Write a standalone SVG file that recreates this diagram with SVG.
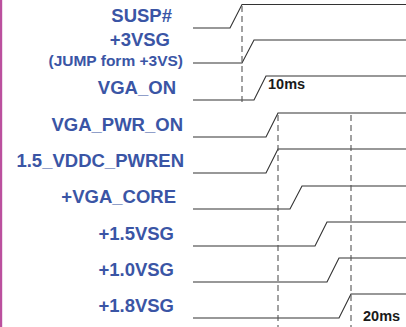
<svg xmlns="http://www.w3.org/2000/svg" width="406" height="327" viewBox="0 0 406 327">
<style>
.lbl{font-family:"Liberation Sans",Arial,sans-serif;font-weight:bold;font-size:18.5px;fill:#3a55a5;text-anchor:end}
.sm{font-size:15.5px}
.ms{font-family:"Liberation Sans",Arial,sans-serif;font-weight:bold;font-size:14.5px;fill:#1a1a1a}
.w{fill:none;stroke:#333;stroke-width:1.1}
.d{fill:none;stroke:#555;stroke-width:1.1;stroke-dasharray:6 4}
</style>
<rect x="0" y="0" width="406" height="327" fill="#fff"/>
<rect x="0" y="0" width="2.2" height="327" fill="#bb509e"/>
<g id="labels">
<g id="n-susp"><text class="lbl" x="172" y="22">SUSP#</text></g>
<g id="n-3vsg"><text class="lbl" x="170" y="46">+3VSG</text></g>
<g id="n-jump"><text class="lbl sm" x="183" y="66">(JUMP form +3VS)</text></g>
<g id="n-vgaon"><text class="lbl" x="176" y="94">VGA_ON</text></g>
<g id="n-vgapwron"><text class="lbl" x="183" y="131">VGA_PWR_ON</text></g>
<g id="n-vddc"><text class="lbl" x="184" y="167">1.5_VDDC_PWREN</text></g>
<g id="n-core"><text class="lbl" x="176" y="203">+VGA_CORE</text></g>
<g id="n-15"><text class="lbl" x="174" y="240">+1.5VSG</text></g>
<g id="n-10"><text class="lbl" x="174" y="276">+1.0VSG</text></g>
<g id="n-18"><text class="lbl" x="174" y="312">+1.8VSG</text></g>
</g>
<g id="connectors">
<path class="w" d="M193 28H230L242 4.5H406"/>
<path class="w" d="M193 63H242L254 40H406"/>
<path class="w" d="M193 100H254L266 76H406"/>
<path class="w" d="M193 137H266L278 113H406"/>
<path class="w" d="M193 173H266L278 149H406"/>
<path class="w" d="M193 209H290L302 186H406"/>
<path class="w" d="M193 246H315L327 222H406"/>
<path class="w" d="M193 282H327L339 258H406"/>
<path class="w" d="M193 318H339L351 294H406"/>
<path class="d" d="M242 6V103"/>
<path class="d" d="M278 115V327"/>
<path class="d" d="M351 115V327"/>
</g>
<g id="notes">
<text class="ms" x="268" y="89">10ms</text>
<text class="ms" x="363" y="321">20ms</text>
</g>
</svg>
